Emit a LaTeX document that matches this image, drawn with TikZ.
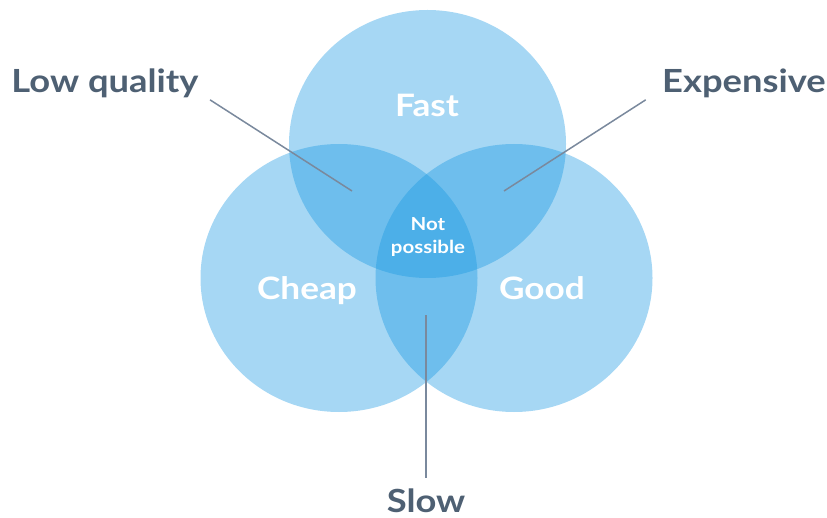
\documentclass[tikz,border=0pt]{standalone}
\usepackage{fontspec}
\setmainfont{Lato}[FakeStretch=1.14]
\definecolor{vennblue}{RGB}{20,150,225}
\definecolor{labelslate}{RGB}{78,96,115}
\definecolor{leadgray}{RGB}{122,137,157}
\usetikzlibrary{calc}

\begin{document}
\begin{tikzpicture}[x=1bp, y=-1bp,
  venn/.style={fill=vennblue, fill opacity=0.38},
  inlabel/.style={text=white, font=\fontsize{31}{31}\selectfont\bfseries, anchor=base},
  outlabel/.style={text=labelslate, font=\fontsize{32}{32}\selectfont\bfseries, anchor=base},
  leader/.style={draw=leadgray, line width=1.5bp}]
  \useasboundingbox (0,0) rectangle (827,518);

  %% Three overlapping sets
  \fill[venn] (427.5,144) ellipse [x radius=138.5, y radius=134];
  \fill[venn] (339,278)   ellipse [x radius=138.5, y radius=134];
  \fill[venn] (514,278)   ellipse [x radius=138.5, y radius=134];

  %% Set names
  \node[inlabel] (fast)  at (427,117) {Fast};
  \node[inlabel] (cheap) at (307,300) {Cheap};
  \node[inlabel] (good)  at (542,300) {Good};
  \node[text=white, font=\fontsize{18}{24}\selectfont\bfseries, align=center] (center) at (428,237) {Not\\possible};

  %% Outside labels
  \node[outlabel] (lowq)  at (105,93)  {Low quality};
  \node[outlabel] (exp)   at (744,93)  {Expensive};
  \node[outlabel] (slow)  at (426,512) {Slow};

  %% Leader lines into the pairwise overlaps
  \coordinate (lowq-in) at (352,191);
  \coordinate (exp-in)  at (504,191);
  \coordinate (slow-in) at (426,315);
  \draw[leader] ($(lowq.south east)+(8,-2)$) -- (lowq-in);
  \draw[leader] ($(exp.south west)+(-13,-2)$) -- (exp-in);
  \draw[leader] ($(slow.north)+(0,-7)$) -- (slow-in);
\end{tikzpicture}
\end{document}
